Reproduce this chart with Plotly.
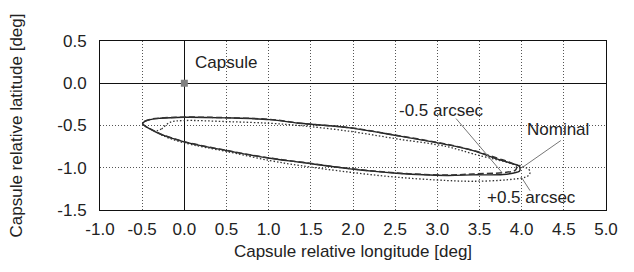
import plotly.graph_objects as go

# Nominal footprint (solid)
nom_lon = [-0.495, -0.473, -0.408, -0.290, -0.013, 0.502, 1.015, 1.371, 1.964, 2.518, 3.111, 3.424, 3.705, 3.898, 3.969, 3.981,
           3.975, 3.942, 3.779, 3.424, 3.111, 2.518, 1.964, 1.371, 1.015, 0.502, -0.013, -0.290, -0.408, -0.455, -0.495]
nom_lat = [-0.481, -0.454, -0.430, -0.415, -0.403, -0.410, -0.430, -0.474, -0.528, -0.619, -0.726, -0.797, -0.895, -0.954, -0.980, -1.013,
           -1.039, -1.053, -1.080, -1.084, -1.092, -1.065, -1.013, -0.935, -0.888, -0.797, -0.690, -0.599, -0.540, -0.515, -0.481]

# -0.5 arcsec footprint (dashed)
neg_lon = [-0.495, -0.473, -0.408, -0.290, -0.013, 0.502, 1.015, 1.371, 1.964, 2.518, 3.111, 3.424, 3.705, 3.866, 3.925, 3.940,
           3.930, 3.900, 3.779, 3.424, 3.111, 2.518, 1.964, 1.371, 1.015, 0.502, -0.013, -0.290, -0.408, -0.455, -0.495]
neg_lat = [-0.478, -0.451, -0.428, -0.413, -0.401, -0.408, -0.428, -0.472, -0.526, -0.617, -0.722, -0.795, -0.885, -0.939, -0.970, -1.000,
           -1.025, -1.040, -1.058, -1.074, -1.086, -1.062, -1.010, -0.932, -0.885, -0.795, -0.688, -0.597, -0.538, -0.512, -0.478]

# +0.5 arcsec footprint (dotted)
pos_lon = [-0.325, -0.269, -0.171, -0.013, 0.502, 1.015, 1.371, 1.964, 2.518, 3.111, 3.424, 3.823, 4.041, 4.085, 4.100,
           4.085, 4.041, 3.823, 3.424, 3.111, 2.518, 1.964, 1.371, 1.015, 0.502, -0.013, -0.254, -0.325]
pos_lat = [-0.570, -0.540, -0.462, -0.442, -0.454, -0.474, -0.501, -0.569, -0.658, -0.749, -0.836, -0.935, -0.994, -1.020, -1.053,
           -1.088, -1.112, -1.143, -1.160, -1.151, -1.112, -1.053, -0.974, -0.915, -0.808, -0.702, -0.619, -0.570]

capsule_lon = [0.0]
capsule_lat = [0.0]

x_ticks = [-1.0, -0.5, 0.0, 0.5, 1.0, 1.5, 2.0, 2.5, 3.0, 3.5, 4.0, 4.5, 5.0]
y_ticks = [-1.5, -1.0, -0.5, 0.0, 0.5]

label_text = ["Capsule", "-0.5 arcsec", "Nominal", "+0.5 arcsec"]
label_lon = [0.493, 3.044, 4.432, 4.111]
label_lat = [0.247, -0.325, -0.548, -1.352]

leader_from_lon = [3.222, 4.464, 4.100]
leader_from_lat = [-0.418, -0.678, -1.272]
leader_to_lon = [3.767, 4.001, 4.001]
leader_to_lat = [-1.057, -1.001, -1.119]

FONT = "Liberation Sans, Arial, Helvetica, sans-serif"

fig = go.Figure()
fig.add_trace(go.Scatter(x=nom_lon, y=nom_lat, mode="lines", name="Nominal",
                         line=dict(color="#222", width=1.4, shape="spline", smoothing=1.0)))
fig.add_trace(go.Scatter(x=neg_lon, y=neg_lat, mode="lines", name="-0.5 arcsec",
                         line=dict(color="#333", width=1.5, dash="6px,3px", shape="spline", smoothing=1.0)))
fig.add_trace(go.Scatter(x=pos_lon, y=pos_lat, mode="lines", name="+0.5 arcsec",
                         line=dict(color="#333", width=1.3, dash="1.5px,2px", shape="spline", smoothing=1.0)))
fig.add_trace(go.Scatter(x=capsule_lon, y=capsule_lat, mode="markers", name="Capsule",
                         marker=dict(symbol="square", size=7, color="#808080")))

for i in range(len(leader_from_lon)):
    fig.add_shape(type="line", xref="x", yref="y",
                  x0=leader_from_lon[i], y0=leader_from_lat[i],
                  x1=leader_to_lon[i], y1=leader_to_lat[i],
                  line=dict(color="#777", width=1))

for t, lx, ly in zip(label_text, label_lon, label_lat):
    fig.add_annotation(x=lx, y=ly, xref="x", yref="y", text=t, showarrow=False,
                       font=dict(family=FONT, size=17, color="#222"),
                       bgcolor="rgba(0,0,0,0)")

axis_common = dict(
    showgrid=True, gridcolor="#555", gridwidth=1, griddash="1px,2px",
    zeroline=True, zerolinecolor="#111", zerolinewidth=1,
    showline=True, linecolor="#111", linewidth=1, mirror=True,
    ticks="outside", tickcolor="rgba(0,0,0,0)",
    tickfont=dict(family=FONT, size=17, color="#222"),
    automargin=False,
)

fig.update_layout(
    width=634, height=272,
    margin=dict(l=100, r=28, t=41, b=62),
    paper_bgcolor="white", plot_bgcolor="white",
    showlegend=False,
    hovermode=False,
    font=dict(family=FONT, size=17, color="#222"),
    xaxis=dict(range=[-1.0, 5.0], tickvals=x_ticks, ticktext=[f"{v:.1f}" for v in x_ticks],
               ticklen=4,
               title=dict(text="Capsule relative longitude [deg]", font=dict(family=FONT, size=17, color="#222"),
                          standoff=6),
               **axis_common),
    yaxis=dict(range=[-1.5, 0.5], tickvals=y_ticks, ticktext=[f"{v:.1f}" for v in y_ticks],
               ticklen=9,
               title=dict(text="Capsule relative latitude [deg]", font=dict(family=FONT, size=17, color="#222"),
                          standoff=30),
               **axis_common),
)

fig.write_html("out.html",
               config={"displayModeBar": False},
               post_script="document.body.style.margin='0';document.body.style.padding='0';"
                           "document.documentElement.style.margin='0';")
